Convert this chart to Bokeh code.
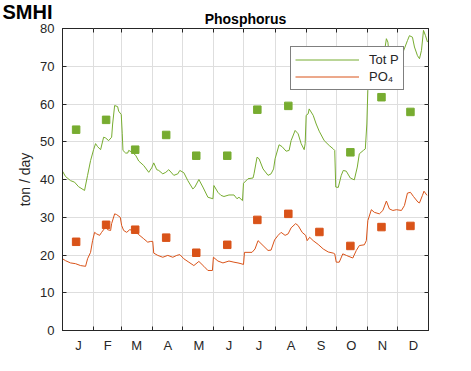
from bokeh.plotting import figure
from bokeh.models import (Range1d, FixedTicker, LinearAxis, Legend, LegendItem, Grid,
                          CustomLabelingPolicy, Title)
from bokeh.embed import file_html
from bokeh.resources import INLINE

# ---- data (day of year, ton/day) ----
totp_day = [0, 3, 8, 12, 16, 22, 25, 28, 31, 33, 35, 38, 41, 43, 46, 49, 50, 52, 55, 56,
            58.6, 59.6, 60.3, 63, 65, 66, 69, 73, 76, 81, 86, 89, 91, 94, 96, 100, 103, 106,
            111, 115, 117, 121, 125, 130, 132, 136, 140, 145, 150, 151, 155, 158, 161, 166,
            171, 174, 176, 179.5, 180.5, 185, 190, 191, 194, 196, 200, 205, 208, 210.5, 212,
            216, 219, 223, 226, 228, 232, 235, 238, 241, 242, 243, 245, 246, 250, 253, 256,
            261, 266, 270, 271.5, 272.5, 275, 278, 280, 283, 287, 291, 294, 296, 300, 302,
            303.5, 304.5, 306, 310, 313, 318, 321, 323, 324.5, 326, 330, 336, 340, 344, 346,
            349, 351, 354, 356, 358, 360, 362, 364]
totp_val = [42.2, 40.8, 39.7, 39.3, 38.1, 37.1, 41.1, 45.0, 47.9, 49.5, 48.7, 47.9, 51.2, 51.0,
            50.3, 51.2, 54.7, 59.6, 59.3, 58.1, 57.2, 52.1, 47.7, 47.0, 47.0, 47.7, 47.3, 46.4,
            44.9, 43.7, 41.9, 43.1, 44.4, 42.6, 42.4, 41.5, 41.9, 42.6, 41.1, 41.5, 42.4, 41.8,
            39.7, 37.5, 38.0, 40.0, 38.0, 35.3, 34.9, 38.4, 36.6, 35.8, 35.5, 35.9, 35.9, 34.9,
            35.3, 34.4, 39.0, 40.2, 40.4, 41.5, 45.9, 45.5, 42.8, 41.1, 41.5, 42.8, 45.5, 49.2,
            48.7, 47.5, 47.7, 50.3, 53.0, 52.1, 49.5, 47.9, 49.5, 57.0, 57.4, 58.7, 57.0, 54.7,
            52.8, 50.3, 49.0, 48.1, 47.7, 38.0, 37.9, 41.1, 42.4, 42.2, 40.4, 39.9, 43.3, 46.8,
            47.7, 48.1, 54.7, 63.6, 70.6, 72.4, 71.5, 72.0, 73.7, 77.3, 76.4, 72.0, 72.0, 71.1,
            74.0, 76.8, 78.1, 77.7, 75.1, 72.8, 72.0, 74.2, 79.5, 78.1, 76.4]

po4_day = [0, 3, 8, 13, 18, 23, 25, 28, 30, 32, 34, 37, 39, 43, 45, 48, 49, 52, 54, 57.6,
           59, 61, 64, 67, 71, 76, 81, 85, 88, 90, 91, 95, 100, 105, 110, 114, 117, 121, 126,
           131, 136, 141, 145, 149.5, 150.5, 155, 160, 166, 171, 175, 178, 180.5, 181.5, 189,
           192, 195, 200, 205, 208, 211.5, 215, 218, 222, 225, 228, 232.5, 235, 239, 242.5,
           244, 246.5, 250, 255, 260, 265, 270, 271.5, 273, 276, 279.5, 283, 289.5, 293, 296,
           301, 303, 304.5, 308, 311, 316, 319.5, 323, 326, 329.5, 333, 338, 341, 344, 347,
           350, 354.5, 356, 359, 360.5, 363.5]
po4_val = [19.0, 18.5, 17.9, 17.7, 17.2, 17.0, 19.0, 20.7, 23.8, 26.0, 25.6, 25.2, 26.0, 27.4,
           26.7, 26.5, 28.3, 30.9, 30.7, 30.0, 27.8, 26.5, 26.0, 26.7, 26.5, 25.4, 24.3, 23.4,
           23.6, 23.6, 20.5, 19.9, 19.4, 19.9, 19.4, 19.9, 20.1, 19.0, 18.1, 17.2, 18.3, 17.0,
           15.9, 15.9, 19.4, 18.4, 17.9, 18.4, 18.1, 17.9, 17.7, 17.5, 20.7, 20.7, 21.6, 23.8,
           22.5, 21.2, 21.3, 24.0, 25.2, 26.0, 25.2, 25.6, 27.2, 28.3, 27.8, 26.0, 25.2, 23.8,
           24.7, 23.8, 22.8, 21.6, 20.8, 20.5, 20.3, 18.1, 18.1, 20.3, 19.9, 19.2, 21.2, 22.5,
           22.7, 23.8, 29.1, 32.0, 31.3, 30.9, 31.8, 34.3, 32.2, 31.8, 32.0, 31.8, 33.1, 36.4,
           36.6, 35.5, 34.0, 33.8, 35.8, 36.9, 35.8]

totp_sample_day = [13.6, 43.5, 72.5, 103.4, 133.4, 164.3, 194.3, 225.2, 287.1, 318.1, 347.0]
totp_sample = [53.2, 55.8, 47.9, 51.8, 46.3, 46.3, 58.5, 59.5, 47.2, 61.8, 57.9]

po4_sample_day = [13.6, 43.5, 72.5, 103.4, 133.4, 164.3, 194.3, 225.2, 256.2, 287.1, 318.1, 347.0]
po4_sample = [23.5, 28.0, 26.7, 24.6, 20.6, 22.7, 29.3, 30.9, 26.1, 22.4, 27.4, 27.7]

month_bounds = [0, 31, 59, 90, 120, 151, 181, 212, 243, 273, 304, 334, 365]
month_labels = ["J", "F", "M", "A", "M", "J", "J", "A", "S", "O", "N", "D"]
y_ticks = [0, 10, 20, 30, 40, 50, 60, 70, 80]

GREEN = "#77AC30"
ORANGE = "#D95319"
AX = "#262626"
GRID = "#dedede"
FONT = "Liberation Sans"

month_mids = [int(round((a + b) / 2)) for a, b in zip(month_bounds[:-1], month_bounds[1:])]

p = figure(frame_width=366, frame_height=302, output_backend="svg", toolbar_location=None,
           x_range=Range1d(0, 365), y_range=Range1d(0, 80),
           min_border_left=62, min_border_right=43, min_border_top=28, min_border_bottom=41,
           x_axis_type=None, y_axis_type=None)

# outermost title: the SMHI logo, drawn down over the chart-title row
p.title.text = "SMHI"
p.title.align = "left"
p.title.offset = -60
p.title.vertical_align = "bottom"
p.title.standoff = -24
p.title.text_font = FONT
p.title.text_font_size = "20px"
p.title.text_font_style = "bold"
p.title.text_color = "black"

p.outline_line_color = AX
p.outline_line_width = 1
p.outline_line_alpha = 1
p.background_fill_color = "white"

hide_labels = CustomLabelingPolicy(code="""
for (const i of Array.from(indices)) { indices.unset(i) }
return indices
""")

# bottom axis: labels at mid-month, ticks at month boundaries
xb = LinearAxis(ticker=FixedTicker(ticks=month_mids, minor_ticks=month_bounds))
xb.major_label_overrides = {m: l for m, l in zip(month_mids, month_labels)}
xb.major_tick_in = 0
xb.major_tick_out = 0
xb.minor_tick_in = 4
xb.minor_tick_out = 0
xb.minor_tick_line_color = AX
xb.axis_line_color = AX
xb.major_label_standoff = 7
xb.major_label_text_font = FONT
xb.major_label_text_font_size = "13px"
xb.major_label_text_color = AX
p.add_layout(xb, "below")

# top axis: ticks only
xt = LinearAxis(ticker=FixedTicker(ticks=month_bounds))
xt.major_tick_in = 4
xt.major_tick_out = 0
xt.minor_tick_in = 0
xt.minor_tick_out = 0
xt.minor_tick_line_color = None
xt.major_tick_line_color = AX
xt.axis_line_color = None
xt.major_label_policy = hide_labels
xt.major_label_text_font_size = "0px"
xt.major_label_standoff = 0
p.add_layout(xt, "above")

# chart title, next to the frame
chart_title = Title(text="Phosphorus", align="center", vertical_align="top", standoff=0,
                    text_font=FONT, text_font_style="bold", text_font_size="14px",
                    text_color="black")
p.add_layout(chart_title, "above")

# left axis
yl = LinearAxis(ticker=FixedTicker(ticks=y_ticks), axis_label="ton / day")
yl.major_tick_in = 4
yl.major_tick_out = 0
yl.major_tick_line_color = AX
yl.minor_tick_line_color = None
yl.axis_line_color = AX
yl.major_label_standoff = 8
yl.major_label_text_font = FONT
yl.major_label_text_font_size = "13px"
yl.major_label_text_color = AX
yl.axis_label_text_font = FONT
yl.axis_label_text_font_size = "14px"
yl.axis_label_text_font_style = "normal"
yl.axis_label_text_color = AX
yl.axis_label_standoff = 4
p.add_layout(yl, "left")

# right axis: ticks only
yr = LinearAxis(ticker=FixedTicker(ticks=y_ticks))
yr.major_tick_in = 4
yr.major_tick_out = 0
yr.minor_tick_out = 0
yr.major_tick_line_color = AX
yr.minor_tick_line_color = None
yr.axis_line_color = None
yr.major_label_policy = hide_labels
yr.major_label_text_font_size = "0px"
p.add_layout(yr, "right")

p.add_layout(Grid(dimension=0, ticker=FixedTicker(ticks=month_bounds), grid_line_color=GRID))
p.add_layout(Grid(dimension=1, ticker=FixedTicker(ticks=y_ticks), grid_line_color=GRID))

r_tp = p.line(totp_day, totp_val, line_color=GREEN, line_width=1)
r_po = p.line(po4_day, po4_val, line_color=ORANGE, line_width=1)
p.scatter(totp_sample_day, totp_sample, marker="square", size=7.5, fill_color=GREEN, line_color=GREEN)
p.scatter(po4_sample_day, po4_sample, marker="square", size=7.5, fill_color=ORANGE, line_color=ORANGE)

legend = Legend(items=[LegendItem(label="Tot P", renderers=[r_tp]),
                       LegendItem(label="PO\u2084", renderers=[r_po])],
                location=(228, 240), orientation="vertical")
legend.border_line_color = "black"
legend.border_line_width = 1
legend.background_fill_color = "white"
legend.background_fill_alpha = 1
legend.padding = 4
legend.margin = 0
legend.spacing = 0
legend.glyph_width = 64
legend.glyph_height = 17
legend.label_height = 17
legend.label_standoff = 10
legend.label_text_font = FONT
legend.label_text_font_size = "13px"
legend.label_text_color = AX
p.add_layout(legend, "center")

open("out.html", "w").write(file_html(p, INLINE))
